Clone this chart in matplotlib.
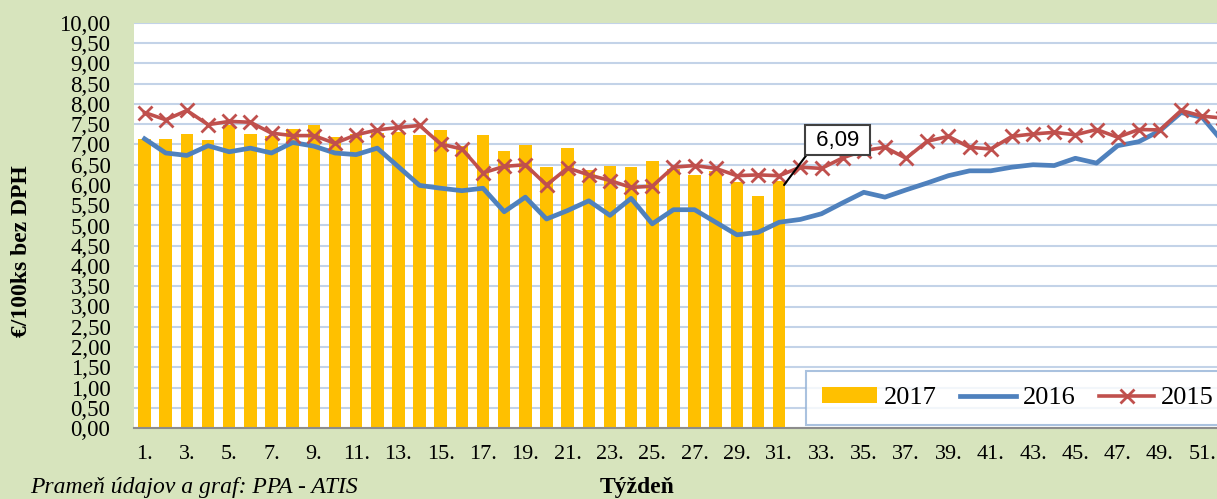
import matplotlib
matplotlib.use('Agg')
import matplotlib.pyplot as plt

weeks = list(range(1, 53))
weeks2017 = list(range(1, 32))

price2017 = [7.14, 7.14, 7.27, 7.10, 7.47, 7.27, 7.22, 7.38, 7.47, 7.18,
             7.25, 7.28, 7.31, 7.24, 7.35, 6.97, 7.24, 6.83, 6.99, 6.44,
             6.91, 6.38, 6.48, 6.44, 6.60, 6.40, 6.25, 6.35, 6.08, 5.74,
             6.09]
price2016 = [7.14, 6.79, 6.73, 6.97, 6.82, 6.91, 6.79, 7.05, 6.96, 6.79,
             6.75, 6.91, 6.45, 5.99, 5.92, 5.86, 5.92, 5.34, 5.70, 5.16,
             5.37, 5.61, 5.25, 5.67, 5.04, 5.39, 5.39, 5.08, 4.77, 4.83,
             5.08, 5.15, 5.29, 5.56, 5.82, 5.70, 5.88, 6.05, 6.23, 6.35,
             6.35, 6.44, 6.50, 6.48, 6.66, 6.54, 6.97, 7.07, 7.34, 7.79,
             7.67, 7.05]
price2015 = [7.79, 7.61, 7.84, 7.49, 7.57, 7.55, 7.28, 7.22, 7.22, 7.03,
             7.24, 7.36, 7.42, 7.47, 7.01, 6.89, 6.30, 6.46, 6.50, 6.00,
             6.42, 6.25, 6.11, 5.94, 5.97, 6.44, 6.48, 6.41, 6.23, 6.25,
             6.23, 6.44, 6.41, 6.67, 6.85, 6.93, 6.66, 7.08, 7.20, 6.93,
             6.89, 7.20, 7.26, 7.30, 7.24, 7.37, 7.18, 7.37, 7.36, 7.84,
             7.70, 7.65]

serif = 'Liberation Serif'
bg = '#D7E4BD'

fig = plt.figure(figsize=(12.17, 4.99), dpi=100, facecolor=bg)
# plot area runs past the right edge, like in the cropped original
ax = fig.add_axes([134 / 1217, 71 / 499, 1100 / 1217, 405 / 499])
ax.set_facecolor('white')

bars = ax.bar(weeks2017, price2017, width=0.59, color='#FFC000', label='2017', zorder=2)
l16, = ax.plot(weeks, price2016, color='#4F81BD', lw=3.4, label='2016', zorder=3)
l15, = ax.plot(weeks, price2015, color='#C0504D', lw=2.6, marker='x', markersize=10,
               markeredgewidth=2, label='2015', zorder=4)

ax.set_xlim(0.5, 52.5)
ax.set_ylim(0, 10)
yt = [i * 0.5 for i in range(21)]
ax.set_yticks(yt)
ax.set_yticklabels([f'{v:.2f}'.replace('.', ',') for v in yt])
ax.set_xticks(weeks[::2])
ax.set_xticklabels([f'{w}.' for w in weeks[::2]])
ax.tick_params(axis='y', length=0, pad=17, labelsize=16.5)
ax.tick_params(axis='x', length=0, pad=12, labelsize=16)
for lab in ax.get_xticklabels() + ax.get_yticklabels():
    lab.set_fontfamily(serif)

ax.grid(axis='y', color='#C3D3E8', lw=1.5, zorder=0)
ax.set_axisbelow(True)
for s in ['left', 'top', 'right']:
    ax.spines[s].set_visible(False)
ax.spines['bottom'].set_color('#8C8C8C')
ax.spines['bottom'].set_linewidth(1.5)

ax.annotate(' 6,09 ', xy=(31.23, 6.0), xytext=(33.76, 7.11),
            fontsize=16, family='Liberation Sans', ha='center', va='center',
            bbox=dict(boxstyle='square,pad=0.2', fc='white', ec='#404040', lw=1.5),
            arrowprops=dict(arrowstyle='-', color='black', lw=1.5,
                            relpos=(0, 0), shrinkA=0, shrinkB=0),
            zorder=6)

leg = ax.legend([bars, l16, l15], ['2017', '2016', '2015'],
                loc='lower left', bbox_to_anchor=(806 / 1217, 74 / 499),
                bbox_transform=fig.transFigure, ncol=3, frameon=True,
                fancybox=False, borderaxespad=0, borderpad=0.6,
                handlelength=2.1, handleheight=0.55, handletextpad=0.25,
                columnspacing=0.9, prop={'family': serif, 'size': 19})
leg.get_frame().set_edgecolor('#95B3D7')
leg.get_frame().set_linewidth(1.5)
leg.set_zorder(7)

fig.text(22 / 1217, 1 - 251 / 499, '€/100ks bez DPH', rotation=90,
         ha='center', va='center', family=serif, fontweight='bold', fontsize=17)
fig.text(637 / 1217, 1 - 487 / 499, 'Týždeň', ha='center', va='center',
         family=serif, fontweight='bold', fontsize=17)
fig.text(30 / 1217, 1 - 487 / 499, 'Prameň údajov a graf: PPA - ATIS',
         ha='left', va='center', family=serif, style='italic', fontsize=17)

plt.savefig('out.png', dpi=100, facecolor=bg)
